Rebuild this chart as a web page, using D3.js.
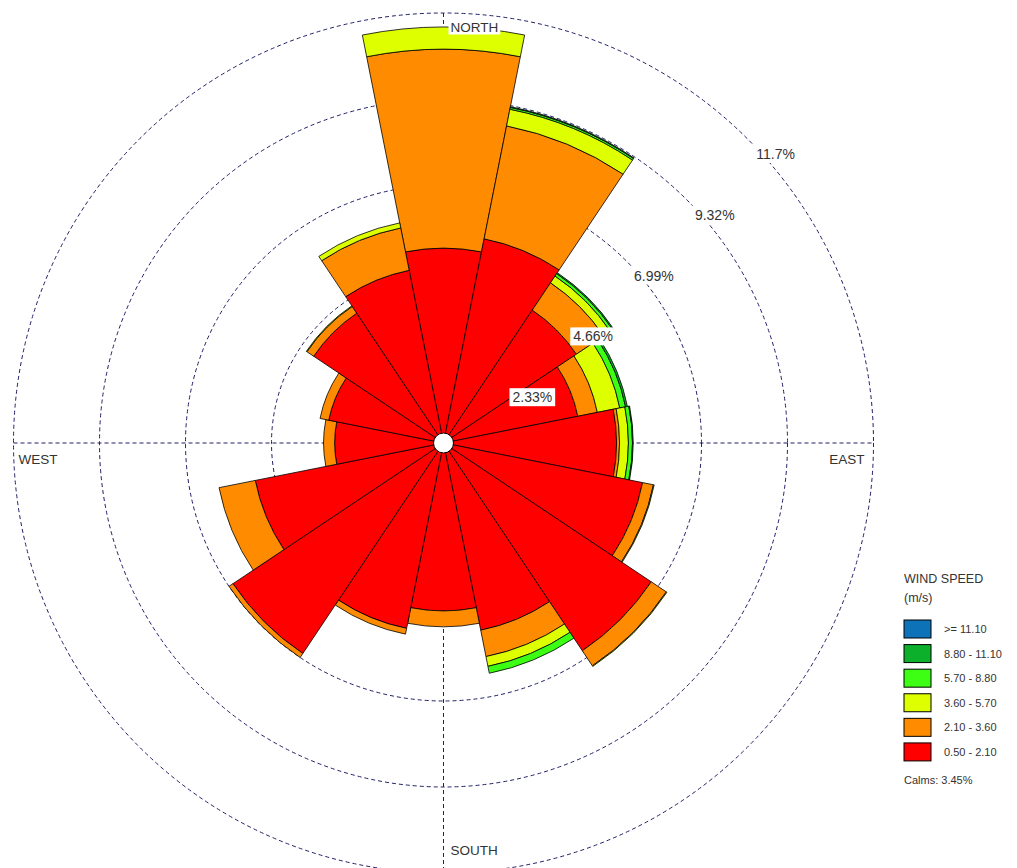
<!DOCTYPE html>
<html>
<head>
<meta charset="utf-8">
<script src="https://cdn.jsdelivr.net/npm/d3@7"></script>
<style>
  html, body { margin: 0; padding: 0; background: #fff; }
  svg { display: block; }
  text { font-family: "Liberation Sans", Arial, sans-serif; fill: #333; }
</style>
</head>
<body>
<svg id="chart" width="1017" height="868"></svg>
<script>
// ---- data ----
const directions = ["N","NNE","NE","ENE","E","ESE","SE","SSE","S","SSW","SW","WSW","W","WNW","NW","NNW"];
const speedLabels = ["0.50 - 2.10","2.10 - 3.60","3.60 - 5.70","5.70 - 8.80","8.80 - 11.10",">= 11.10"];
const speedColors = ["#ff0000","#ff8c00","#ddff00","#3cff14","#0db02b","#0e72b9"];
// percentage frequency per direction for each speed class
const spd050_210  = [5.28, 5.64, 4.33, 3.71, 4.69, 5.50, 6.77, 5.17, 4.55, 5.12, 6.86, 5.20, 2.95, 3.17, 4.23, 4.77];
const spd210_360  = [5.39, 3.12, 0.89, 0.54, 0.08, 0.30, 0.49, 0.73, 0.43, 0.16, 0.13, 1.00, 0.30, 0.24, 0.22, 1.17];
const spd360_570  = [0.60, 0.46, 0.22, 0.62, 0.24, 0.02, 0.02, 0.27, 0.00, 0.00, 0.00, 0.00, 0.00, 0.00, 0.02, 0.14];
const spd570_880  = [0.00, 0.05, 0.08, 0.16, 0.11, 0.00, 0.00, 0.19, 0.00, 0.00, 0.00, 0.00, 0.00, 0.00, 0.00, 0.00];
const spd880_1110 = [0.00, 0.02, 0.03, 0.05, 0.02, 0.00, 0.00, 0.00, 0.00, 0.00, 0.00, 0.00, 0.00, 0.00, 0.00, 0.00];
const spd1110     = [0,0,0,0,0,0,0,0,0,0,0,0,0,0,0,0];
const ringValues = [2.33, 4.66, 6.99, 9.32, 11.65];
const ringLabels = ["2.33%","4.66%","6.99%","9.32%","11.7%"];
const compassLabels = ["NORTH","EAST","SOUTH","WEST"];
const calms = "Calms: 3.45%";

const series = [spd050_210, spd210_360, spd360_570, spd570_880, spd880_1110, spd1110];

// ---- layout ----
const svg = d3.select("#chart");
const cx = 443.5, cy = 443;
const r = d3.scaleLinear().domain([0, 11.65]).range([0, 430]);
const ang = d3.scaleBand().domain(directions).range([-Math.PI/16, 2*Math.PI - Math.PI/16]).padding(0);

const g = svg.append("g").attr("transform", `translate(${cx},${cy})`);
const gridColor = "#1f1f66";

// rings
g.selectAll("circle.ring").data(ringValues).join("circle")
  .attr("class","ring").attr("r", d => r(d))
  .attr("fill","none").attr("stroke",gridColor).attr("stroke-width",1)
  .attr("stroke-dasharray","4,3");
// axes
g.append("line").attr("x1",-r(11.65)).attr("x2",r(11.65)).attr("y1",0).attr("y2",0)
  .attr("stroke",gridColor).attr("stroke-dasharray","4,3");
g.append("line").attr("y1",-r(11.65)).attr("y2",r(11.65)).attr("x1",0).attr("x2",0)
  .attr("stroke",gridColor).attr("stroke-dasharray","4,3");

// petals
const stack = [];
directions.forEach((d, i) => {
  let cum = 0;
  series.forEach((s, k) => {
    const v = s[i];
    if (v > 0) stack.push({dir: d, k, inner: cum, outer: cum + v});
    cum += v;
  });
});
const arc = d3.arc()
  .innerRadius(d => r(d.inner))
  .outerRadius(d => r(d.outer))
  .startAngle(d => ang(d.dir))
  .endAngle(d => ang(d.dir) + ang.bandwidth());
g.selectAll("path.petal").data(stack).join("path")
  .attr("class","petal").attr("d", arc)
  .attr("fill", d => speedColors[d.k])
  .attr("stroke","#000").attr("stroke-width",0.8).attr("stroke-linejoin","round");

// calm circle
g.append("circle").attr("r",10).attr("fill","#fff").attr("stroke","#000").attr("stroke-width",1);

// ring labels
ringValues.forEach((v, i) => {
  const x = r(v) * Math.SQRT1_2 + 28, y = -r(v) * Math.SQRT1_2 + 15;
  const t = g.append("text").attr("x", x).attr("y", y).attr("text-anchor","middle")
    .attr("dominant-baseline","central").attr("font-size", 14).text(ringLabels[i]);
  const bb = t.node().getBBox();
  g.insert("rect", () => t.node()).attr("x", bb.x - 3).attr("y", bb.y - 1)
    .attr("width", bb.width + 6).attr("height", bb.height + 2).attr("fill","#fff");
});

// compass labels
const compassPos = [
  {x: 7, y: -416, anchor: "start"},
  {x: 421, y: 16, anchor: "end"},
  {x: 7, y: 407, anchor: "start"},
  {x: -425, y: 16, anchor: "start"}
];
compassLabels.forEach((lab, i) => {
  const p = compassPos[i];
  const t = g.append("text").attr("x", p.x).attr("y", p.y).attr("text-anchor", p.anchor)
    .attr("dominant-baseline","central").attr("font-size", 13.5).text(lab);
  const bb = t.node().getBBox();
  g.insert("rect", () => t.node()).attr("x", bb.x - 2).attr("y", bb.y)
    .attr("width", bb.width + 4).attr("height", bb.height).attr("fill","#fff");
});

// legend
const lg = svg.append("g").attr("transform","translate(904,0)");
lg.append("text").attr("x",0).attr("y",583).attr("font-size",12.5).text("WIND SPEED");
lg.append("text").attr("x",0).attr("y",602).attr("font-size",12.5).text("(m/s)");
const legendOrder = d3.range(speedLabels.length).reverse();
const ly = d3.scaleBand().domain(legendOrder).range([620, 767.5]);
legendOrder.forEach(k => {
  lg.append("rect").attr("x",0).attr("y",ly(k)).attr("width",27).attr("height",18)
    .attr("fill",speedColors[k]).attr("stroke","#000").attr("stroke-width",1);
  lg.append("text").attr("x",40).attr("y",ly(k)+9).attr("dominant-baseline","central")
    .attr("font-size",11).text(speedLabels[k]);
});
lg.append("text").attr("x",0).attr("y",780).attr("dominant-baseline","central")
  .attr("font-size",11).text(calms);
</script>
</body>
</html>
